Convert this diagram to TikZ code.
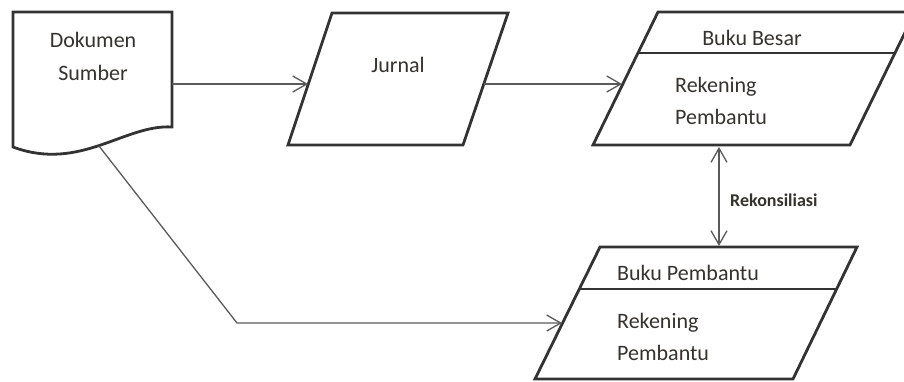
\documentclass[tikz,border=0pt]{standalone}
\usepackage{fontspec}
\setmainfont{Carlito}
\usetikzlibrary{arrows.meta}
\definecolor{ln}{HTML}{333333}
\definecolor{cn}{HTML}{5A5A5A}
\definecolor{tx}{HTML}{36322E}
\begin{document}
\begin{tikzpicture}[x=1pt,y=-1pt,
  boxline/.style={draw=ln,line width=2.8pt,line join=miter,fill=white},
  conn/.style={draw=cn,line width=1.3pt,-{Straight Barb[length=14pt,width=16pt]}},
  dconn/.style={draw=cn,line width=1.3pt,{Straight Barb[length=14pt,width=16pt]}-{Straight Barb[length=14pt,width=16pt]}},
  lbl/.style={text=tx,font=\fontsize{22}{26}\selectfont,inner sep=0pt},
  rlbl/.style={text=tx,font=\fontsize{18}{21}\selectfont\bfseries,inner sep=0pt}]
\fill[white] (0,0) rectangle (904,381);
\useasboundingbox (0,0) rectangle (904,381);
\clip (0,0) rectangle (904,381);

% Dokumen Sumber (document shape)
\draw[boxline] (13,12) -- (172,12) -- (172,127) .. controls (125,124) and (80,172) .. (13,147) -- cycle;
\coordinate (docR) at (172,84);
\coordinate (docB) at (99,146);
\node[lbl,anchor=base] (doc1) at (93,47) {Dokumen};
\node[lbl,anchor=base] (doc2) at (93,80) {Sumber};

% Jurnal
\draw[boxline] (332,13) -- (508,13) -- (463,145) -- (288,145) -- cycle;
\coordinate (jurL) at (308,84);
\coordinate (jurR) at (484,84);
\node[lbl,anchor=base] (jur) at (398,72) {Jurnal};

% Buku Besar
\draw[boxline] (658,12) -- (915,12) -- (850,145) -- (593,145) -- cycle;
\draw[ln,line width=2.8pt] (638,53) -- (895,53);
\coordinate (bbL) at (622,84);
\coordinate (bbB) at (719,147);
\node[lbl,anchor=base] (bb) at (752,45) {Buku Besar};
\node[lbl,anchor=base west] (bb1) at (675,92) {Rekening};
\node[lbl,anchor=base west] (bb2) at (675,124) {Pembantu};

% Buku Pembantu
\draw[boxline] (600,247) -- (857,247) -- (793,379) -- (535,379) -- cycle;
\draw[ln,line width=2.8pt] (579,289) -- (837,289);
\coordinate (bpL) at (562,323);
\coordinate (bpT) at (719,246);
\node[lbl,anchor=base west] (bp) at (617,280) {Buku Pembantu};
\node[lbl,anchor=base west] (bp1) at (617,328) {Rekening};
\node[lbl,anchor=base west] (bp2) at (617,360) {Pembantu};

% connectors
\coordinate (bend) at (237,323);
\draw[conn] (docR) -- (jurL);
\draw[conn] (jurR) -- (bbL);
\draw[conn] (docB) -- (bend) -- (bpL);
\draw[dconn] (bbB) -- (bpT);
\node[rlbl,anchor=base west] (rek) at (730,206) {Rekonsiliasi};
\end{tikzpicture}
\end{document}
